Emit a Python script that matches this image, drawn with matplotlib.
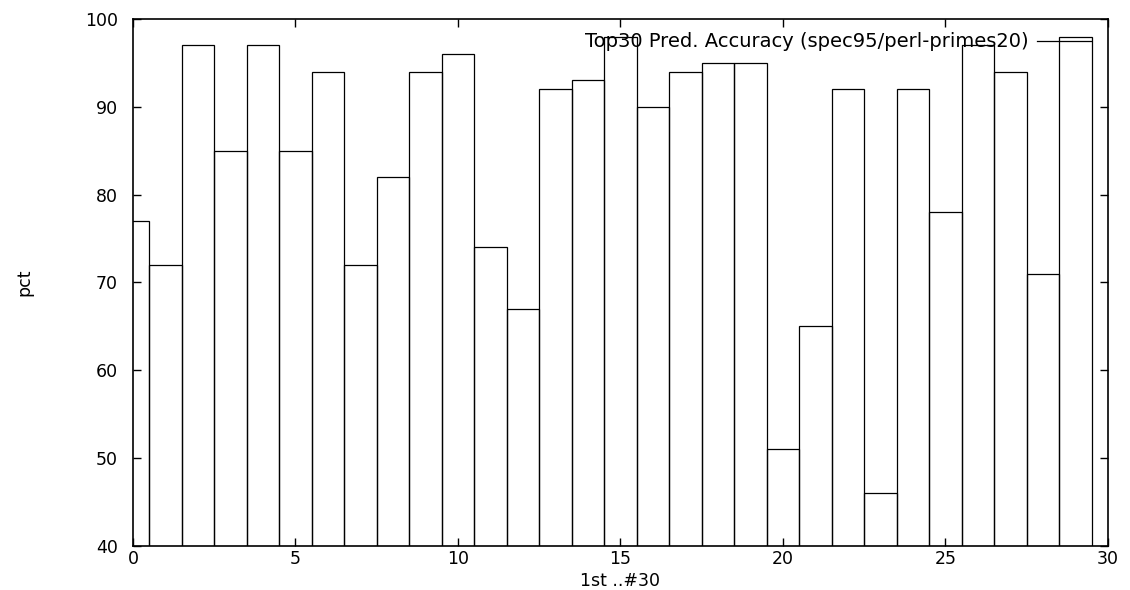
import matplotlib
matplotlib.use("Agg")
import matplotlib.pyplot as plt
import numpy as np

plt.rcParams['font.family'] = ['DejaVu Sans']

# prediction accuracy per rank, 1st .. #30
rank = np.arange(30)
pct = [77, 72, 97, 85, 97, 85, 94, 72, 82, 94,
       96, 74, 67, 92, 93, 98, 90, 94, 95, 95,
       51, 65, 92, 46, 92, 78, 97, 94, 71, 98]
title = "Top30 Pred. Accuracy (spec95/perl-primes20)"

fig = plt.figure(figsize=(11.3, 5.9), dpi=100)
ax = fig.add_axes([0.1177, 0.0746, 0.8628, 0.8932])

ax.bar(rank, pct, width=1.0, fill=False, edgecolor='black', linewidth=0.9)

ax.set_xlim(0, 30)
ax.set_ylim(40, 100)
ax.set_xticks(range(0, 31, 5))
ax.set_yticks(range(40, 101, 10))
ax.tick_params(direction='in', top=True, right=True, length=6, width=1,
               labelsize=12.5)
ax.tick_params(axis='x', pad=3)
ax.tick_params(axis='y', pad=11)
for s in ax.spines.values():
    s.set_linewidth(1.2)

ax.set_xlabel("1st ..#30", fontsize=12.5)
ax.xaxis.set_label_coords(0.5, -0.049)
ax.set_ylabel("pct", fontsize=12.5)
ax.yaxis.set_label_coords(-0.102, 0.5)

# gnuplot-style key in the top right corner
ax.text(0.919, 0.958, title, transform=ax.transAxes, ha='right', va='center',
        fontsize=14)
ax.plot([0.927, 0.983], [0.958, 0.958], transform=ax.transAxes,
        color='black', linewidth=0.9, clip_on=False)

fig.savefig("out.png", dpi=100)
